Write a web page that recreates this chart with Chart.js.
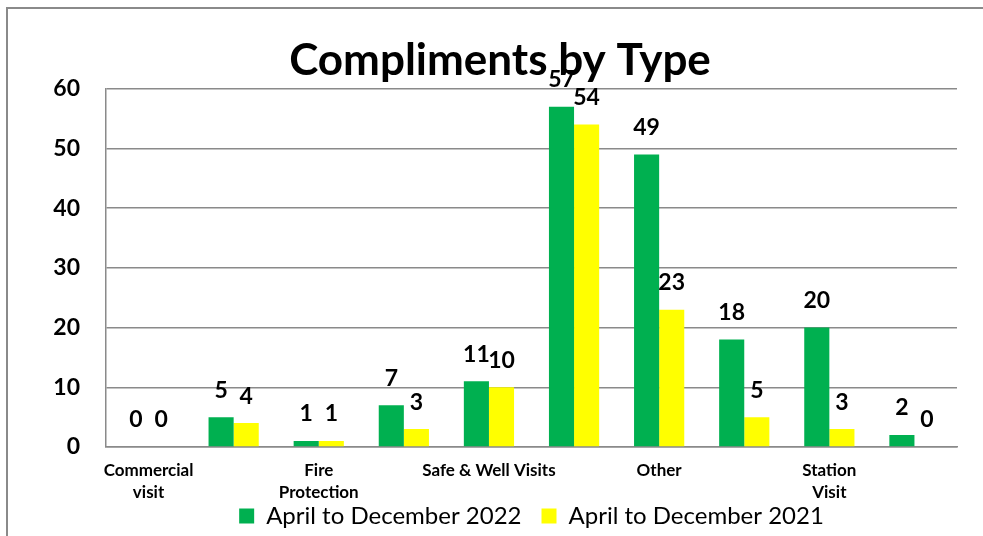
<!DOCTYPE html>
<html>
<head>
<meta charset="utf-8">
<script src="https://cdn.jsdelivr.net/npm/chart.js@4"></script>
<style>
  html, body { margin: 0; padding: 0; background: #fff; }
  #wrap { position: relative; width: 983px; height: 536px; overflow: hidden; }
  #frame {
    position: absolute; left: 6px; top: 7px; width: 1000px; height: 600px;
    border-left: 2px solid #8a8a8a; border-top: 2px solid #8a8a8a;
  }
  canvas { position: absolute; left: 0; top: 0; }
</style>
</head>
<body>
<div id="wrap">
  <div id="frame"></div>
  <canvas id="complimentsChart" width="983" height="536"></canvas>
</div>
<script>
// chart data
const categories = [
  ["Commercial", "visit"], "",
  ["Fire", "Protection"], "",
  "Safe & Well Visits", "",
  "Other", "",
  ["Station", "Visit"], ""
];
const values2022 = [0, 5, 1, 7, 11, 57, 49, 18, 20, 2];
const values2021 = [0, 4, 1, 3, 10, 54, 23, 5, 3, 0];
const yTicks = [0, 10, 20, 30, 40, 50, 60];

const FONT = "Lato, 'Liberation Sans', sans-serif";

// draws the value above each bar
const barLabels = {
  id: 'barLabels',
  afterDatasetsDraw(chart) {
    const c = chart.ctx;
    c.save();
    c.font = "bold 23px " + FONT;
    c.fillStyle = "#000";
    c.textAlign = "center";
    c.textBaseline = "middle";
    chart.data.datasets.forEach((ds, i) => {
      chart.getDatasetMeta(i).data.forEach((bar, j) => {
        c.fillText(String(ds.data[j]), bar.x, bar.y - 27);
      });
    });
    c.restore();
  }
};

const ctx = document.getElementById("complimentsChart").getContext("2d");
new Chart(ctx, {
  type: 'bar',
  data: {
    labels: categories,
    datasets: [{
      label: 'April to December 2022',
      data: values2022,
      backgroundColor: "#00B050",
      borderWidth: 0,
      categoryPercentage: 0.59,
      barPercentage: 1.0
    }, {
      label: 'April to December 2021',
      data: values2021,
      backgroundColor: "#FFFF00",
      borderWidth: 0,
      categoryPercentage: 0.59,
      barPercentage: 1.0
    }]
  },
  options: {
    responsive: false,
    animation: false,
    layout: { padding: { left: 43, right: 26, top: 0, bottom: -2 } },
    plugins: {
      title: {
        display: true,
        text: 'Compliments by Type',
        color: '#000',
        font: { family: FONT, size: 44, weight: 'bold' },
        padding: { top: 34, bottom: 2 }
      },
      legend: {
        position: 'bottom',
        fullSize: false,
        labels: {
          color: '#000',
          font: { family: FONT, size: 24 },
          boxWidth: 15,
          boxHeight: 15,
          padding: 20
        }
      },
      tooltip: { enabled: false }
    },
    scales: {
      x: {
        grid: { display: false, drawTicks: false },
        border: { color: '#8a8a8a', width: 1.5 },
        ticks: {
          autoSkip: false,
          maxRotation: 0,
          color: '#000',
          padding: 12,
          font: { family: FONT, size: 17, weight: 'bold', lineHeight: 1.3 }
        },
        afterFit: scale => {
          scale.height = 37;
          // let the two-line labels run below the axis box
          scale._computeLabelArea = () => undefined;
        }
      },
      y: {
        min: 0,
        max: 60,
        afterBuildTicks: scale => { scale.ticks = yTicks.map(v => ({ value: v })); },
        grid: { color: '#8a8a8a', lineWidth: 1.5, drawTicks: false },
        border: { color: '#8a8a8a', width: 1.5 },
        ticks: {
          color: '#000',
          padding: 26,
          font: { family: FONT, size: 23, weight: 'bold' }
        },
        afterFit: scale => { scale.width = 63; }
      }
    }
  },
  plugins: [barLabels]
});
</script>
</body>
</html>
